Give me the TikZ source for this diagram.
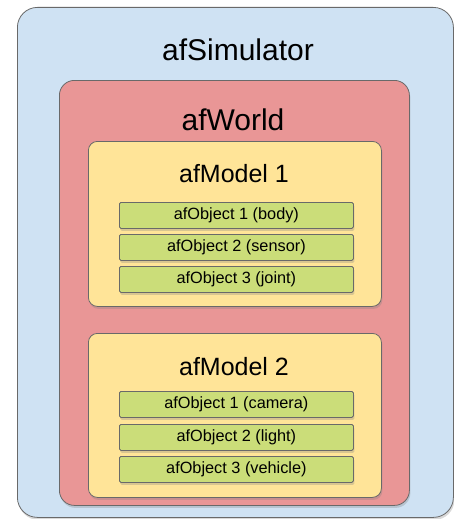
\documentclass[tikz,border=0pt]{standalone}
\usepackage{fontspec}
\setmainfont{Liberation Sans}
\usetikzlibrary{positioning, shadows}
\definecolor{simblue}{RGB}{207, 226, 243}
\definecolor{worldred}{RGB}{233, 150, 150}
\definecolor{modelyellow}{RGB}{255, 228, 152}
\definecolor{objgreen}{RGB}{203, 221, 121}
\definecolor{edgegray}{RGB}{105, 105, 105}

\begin{document}
\begin{tikzpicture}[x=1pt, y=-1pt,
  every node/.style={inner sep=0pt},
  box/.style={draw=edgegray, line width=0.8pt, anchor=north west,
    drop shadow={shadow xshift=1pt, shadow yshift=-2.5pt, opacity=0.3}},
  simbox/.style={box, fill=simblue, rounded corners=20pt},
  worldbox/.style={box, fill=worldred, rounded corners=15pt},
  modelbox/.style={box, fill=modelyellow, rounded corners=9pt,
    minimum width=293pt, minimum height=165pt},
  objbox/.style={box, fill=objgreen, rounded corners=1.5pt,
    minimum width=234pt, minimum height=26pt,
    font=\fontsize{16.3}{19}\selectfont},
  bigtitle/.style={font=\fontsize{30}{36}\selectfont},
  modeltitle/.style={font=\fontsize{25}{30}\selectfont}]

  \useasboundingbox (0,0) rectangle (454,519);

  % ---------- Simulator ----------
  \node[simbox, minimum width=436pt, minimum height=510pt] (sim) at (17,7) {};
  \node[bigtitle] (simlabel) at (238,50) {afSimulator};

  % ---------- World ----------
  \node[worldbox, minimum width=350pt, minimum height=425pt] (world) at (59,80) {};
  \node[bigtitle] (worldlabel) at (233,120) {afWorld};

  % ---------- Model 1 ----------
  \node[modelbox] (modela) at (88,141) {};
  \node[modeltitle] (modelalabel) at (234,174) {afModel 1};
  \foreach \y/\t [count=\i] in {202/body, 234/sensor, 266/joint}{
    \node[objbox] (obja\i) at (119,\y) {afObject \i\ (\t)};
  }

  % ---------- Model 2 ----------
  \node[modelbox, minimum height=164pt] (modelb) at (88,333) {};
  \node[modeltitle] (modelblabel) at (234,367) {afModel 2};
  \foreach \y/\t [count=\i] in {391/camera, 424/light, 456/vehicle}{
    \node[objbox] (objb\i) at (119,\y) {afObject \i\ (\t)};
  }
\end{tikzpicture}
\end{document}
